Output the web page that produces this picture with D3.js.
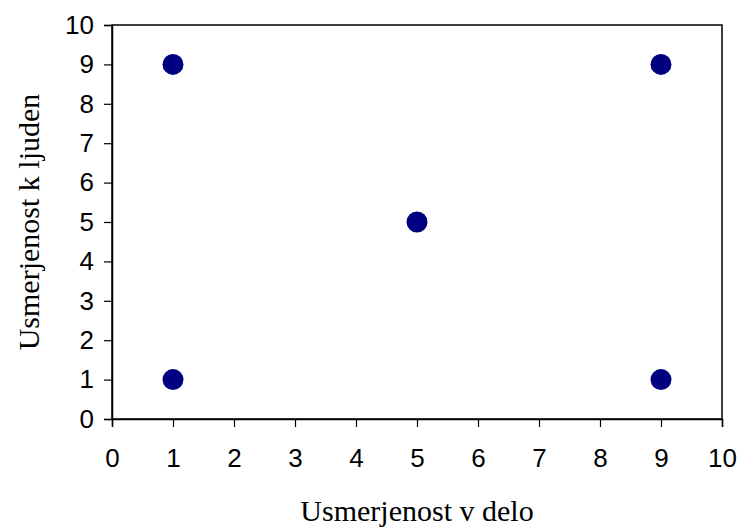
<!DOCTYPE html>
<html>
<head>
<meta charset="utf-8">
<script src="https://cdn.jsdelivr.net/npm/d3@7"></script>
<style>
  html, body { margin: 0; padding: 0; background: #fff; }
  svg { display: block; }
</style>
</head>
<body>
<script>
// Data: five positions on the grid
const xValues = [1, 1, 5, 9, 9];
const yValues = [9, 1, 5, 9, 1];
const xTicks = [0, 1, 2, 3, 4, 5, 6, 7, 8, 9, 10];
const yTicks = [0, 1, 2, 3, 4, 5, 6, 7, 8, 9, 10];
const xTitle = "Usmerjenost v delo";
const yTitle = "Usmerjenost k ljuden";

const W = 739, H = 528;
const m = { left: 112, right: 17, top: 25, bottom: 109 };

const svg = d3.select("body").append("svg")
  .attr("width", W).attr("height", H);

const x = d3.scaleLinear().domain([0, 10]).range([m.left, W - m.right]);
const y = d3.scaleLinear().domain([0, 10]).range([H - m.bottom, m.top]);

// Plot frame
svg.append("rect")
  .attr("x", x(0)).attr("y", y(10))
  .attr("width", x(10) - x(0)).attr("height", y(0) - y(10))
  .attr("fill", "none").attr("stroke", "#000").attr("stroke-width", 1.5);

const xAxis = svg.append("g")
  .attr("transform", `translate(0,${y(0)})`)
  .call(d3.axisBottom(x).tickValues(xTicks).tickSize(8).tickPadding(22).tickFormat(d3.format("d")));
const yAxis = svg.append("g")
  .attr("transform", `translate(${x(0)},0)`)
  .call(d3.axisLeft(y).tickValues(yTicks).tickSize(8).tickPadding(10).tickFormat(d3.format("d")));

[xAxis, yAxis].forEach(g => {
  g.select(".domain").attr("stroke", "#000").attr("stroke-width", 1.5);
  g.selectAll(".tick line").attr("stroke", "#000").attr("stroke-width", 1.2);
  g.selectAll(".tick text")
    .attr("fill", "#000")
    .style("font-family", "'Liberation Sans', Arial, sans-serif")
    .style("font-size", "26px");
});

// Markers
svg.append("g").selectAll("circle")
  .data(xValues.map((v, i) => [v, yValues[i]]))
  .join("circle")
  .attr("cx", d => x(d[0]))
  .attr("cy", d => y(d[1]))
  .attr("r", 10.5)
  .attr("fill", "#000080");

// Axis titles
svg.append("text")
  .attr("x", (x(0) + x(10)) / 2).attr("y", 521)
  .attr("text-anchor", "middle")
  .style("font-family", "'Liberation Serif', 'Times New Roman', serif")
  .style("font-size", "30px")
  .text(xTitle);

svg.append("text")
  .attr("transform", `translate(39,${(y(0) + y(10)) / 2}) rotate(-90)`)
  .attr("text-anchor", "middle")
  .style("font-family", "'Liberation Serif', 'Times New Roman', serif")
  .style("font-size", "30px")
  .text(yTitle);
</script>
</body>
</html>
